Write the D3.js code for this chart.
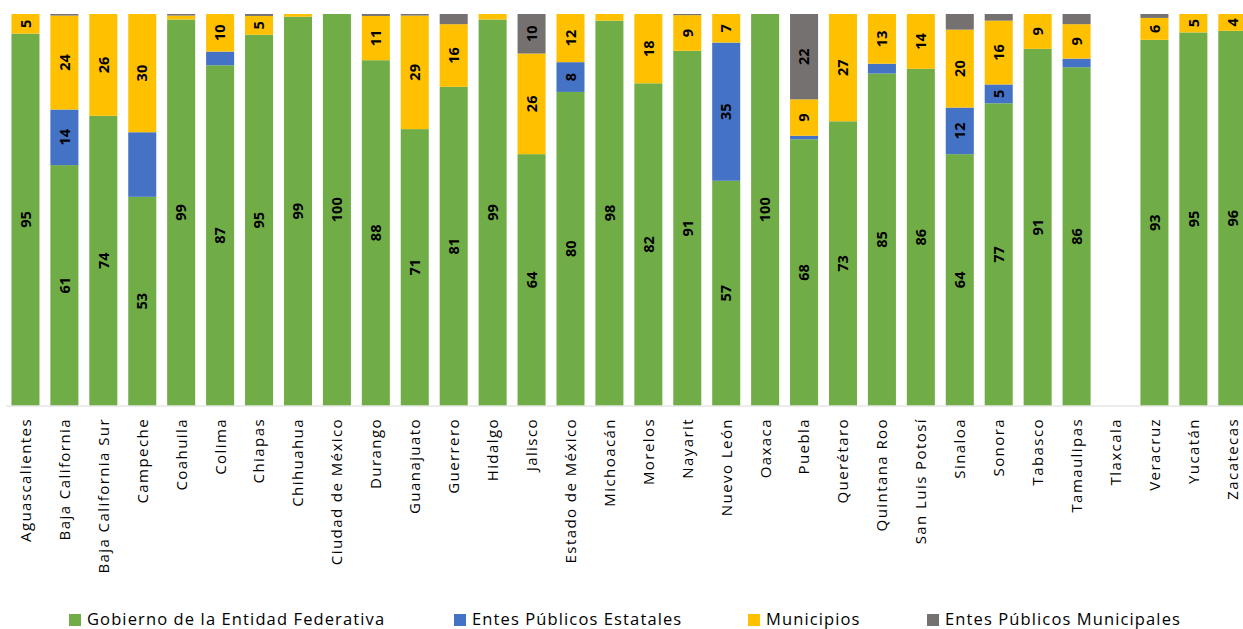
<!DOCTYPE html>
<html>
<head>
<meta charset="utf-8">
<script src="https://cdn.jsdelivr.net/npm/d3@7"></script>
<style>
  html, body { margin: 0; padding: 0; background: #fff; overflow: hidden; }
  svg { display: block; }
</style>
</head>
<body>
<svg id="chart" width="1243" height="629"></svg>
<script>
// ---- DATA ----
const categories = ["Aguascalientes","Baja California","Baja California Sur","Campeche","Coahuila","Colima","Chiapas","Chihuahua","Ciudad de México","Durango","Guanajuato","Guerrero","Hidalgo","Jalisco","Estado de México","Michoacán","Morelos","Nayarit","Nuevo León","Oaxaca","Puebla","Querétaro","Quintana Roo","San Luis Potosí","Sinaloa","Sonora","Tabasco","Tamaulipas","Tlaxcala","Veracruz","Yucatán","Zacatecas"];

const seriesNames = ["Gobierno de la Entidad Federativa","Entes Públicos Estatales","Municipios","Entes Públicos Municipales"];

const gobierno    = [95, 61.4, 74, 53.3, 98.6, 86.9, 94.7, 99.3, 100, 88.2, 70.6, 81.4, 98.6, 64.2, 80.1, 98.3, 82.3, 90.6, 57.4, 100, 68, 72.6, 84.8, 86, 64.2, 77.2, 91.1, 86.4, 0, 93.4, 95.3, 95.7];
const estatales   = [0, 14.2, 0, 16.5, 0, 3.5, 0, 0, 0, 0, 0, 0, 0, 0, 7.6, 0, 0, 0, 35.3, 0, 0.9, 0, 2.5, 0, 11.9, 4.8, 0, 2.2, 0, 0, 0, 0];
const municipios  = [5, 24, 26, 30.2, 1, 9.6, 4.8, 0.7, 0, 11.3, 29, 16, 1.4, 25.7, 12.3, 1.7, 17.7, 9.1, 7.3, 0, 9.3, 27.4, 12.7, 14, 19.9, 16.3, 8.9, 8.8, 0, 5.6, 4.7, 4.3];
const municipales = [0, 0.4, 0, 0, 0.4, 0, 0.5, 0, 0, 0.5, 0.4, 2.6, 0, 10.1, 0, 0, 0, 0.3, 0, 0, 21.8, 0, 0, 0, 4, 1.7, 0, 2.6, 0, 1.0, 0, 0];

// labels deliberately absent in the original
const hiddenLabels = [["Campeche", "Entes Públicos Estatales"]];
const minLabelValue = 4.2;

// ---- STYLE ----
const colors = ["#70AD47", "#4472C4", "#FFC000", "#767171"];
const FONT = "'Open Sans', 'Noto Sans', sans-serif";

const svg = d3.select("#chart");
const W = 1243, H = 629;
const plot = { left: 6, right: 6 + 32 * 38.93, top: 14, bottom: 405.5 };

const table = categories.map((c, i) => ({
  cat: c,
  [seriesNames[0]]: gobierno[i],
  [seriesNames[1]]: estatales[i],
  [seriesNames[2]]: municipios[i],
  [seriesNames[3]]: municipales[i]
}));

const stack = d3.stack().keys(seriesNames)(table);

const x = d3.scaleBand().domain(categories).range([plot.left, plot.right])
  .paddingInner(0.28).paddingOuter(0.14);
const y = d3.scaleLinear().domain([0, 100]).range([plot.bottom, plot.top]);

const g = svg.append("g");

// bars
const layers = g.selectAll("g.layer").data(stack).join("g")
  .attr("class", "layer").attr("fill", (d, i) => colors[i]);

layers.selectAll("rect").data(d => d.map(p => ({ p, key: d.key })))
  .join("rect")
  .attr("x", d => x(d.p.data.cat))
  .attr("width", x.bandwidth())
  .attr("y", d => y(Math.min(100, d.p[1])))
  .attr("height", d => Math.max(0, y(d.p[0]) - y(Math.min(100, d.p[1]))));

// axis line
g.append("line")
  .attr("x1", plot.left).attr("x2", W)
  .attr("y1", plot.bottom + 0.5).attr("y2", plot.bottom + 0.5)
  .attr("stroke", "#d9d9d9").attr("stroke-width", 1);

// data labels
const isHidden = (cat, key) => hiddenLabels.some(h => h[0] === cat && h[1] === key);
const labelData = [];
stack.forEach(layer => {
  layer.forEach(p => {
    const v = p[1] - p[0];
    if (v >= minLabelValue && !isHidden(p.data.cat, layer.key)) {
      labelData.push({ cat: p.data.cat, v, mid: (p[0] + p[1]) / 2 });
    }
  });
});

g.selectAll("text.val").data(labelData).join("text")
  .attr("class", "val")
  .attr("transform", d => `translate(${x(d.cat) + x.bandwidth() / 2},${y(d.mid)}) rotate(-90)`)
  .attr("text-anchor", "middle")
  .attr("dy", "0.36em")
  .attr("font-family", FONT)
  .attr("font-weight", "bold")
  .attr("font-size", 14.5)
  .attr("fill", "#000")
  .text(d => Math.round(d.v));

// category labels via axis
const xAxis = d3.axisBottom(x).tickSize(0).tickPadding(0);
const ax = g.append("g").attr("transform", `translate(0,${plot.bottom})`).call(xAxis);
ax.select(".domain").remove();
const tickTexts = ax.selectAll(".tick text")
  .attr("transform", "translate(0,12.5) rotate(-90)")
  .attr("text-anchor", "end")
  .attr("x", 0).attr("y", 0)
  .attr("dy", "0.36em")
  .attr("font-family", FONT)
  .attr("font-size", 15)
  .attr("fill", "#000");
// spread letters to match the reference's rendered width ("Aguascalientes" ≈ 124px)
{
  const n0 = tickTexts.nodes()[0];
  const w0 = n0.getComputedTextLength();
  const ls = Math.max(0, (124 - w0) / n0.textContent.length);
  tickTexts.attr("letter-spacing", ls);
}

// legend
const legendX = [69, 454, 748, 927];
const legend = svg.append("g").attr("class", "legend");
const items = legend.selectAll("g").data(seriesNames).join("g")
  .attr("transform", (d, i) => `translate(${legendX[i]},0)`);
items.append("rect")
  .attr("width", 12).attr("height", 12)
  .attr("y", 614)
  .attr("fill", (d, i) => colors[i]);
const legTexts = items.append("text")
  .attr("x", 18).attr("y", 624.5)
  .attr("font-family", FONT)
  .attr("font-size", 16.5)
  .attr("fill", "#000")
  .text(d => d);
// match reference width of "Entes Públicos Municipales" (≈ 236px)
{
  const n3 = legTexts.nodes()[3];
  const w3 = n3.getComputedTextLength();
  const ls = Math.max(0, (236 - w3) / n3.textContent.length);
  legTexts.attr("letter-spacing", ls);
}
</script>
</body>
</html>
